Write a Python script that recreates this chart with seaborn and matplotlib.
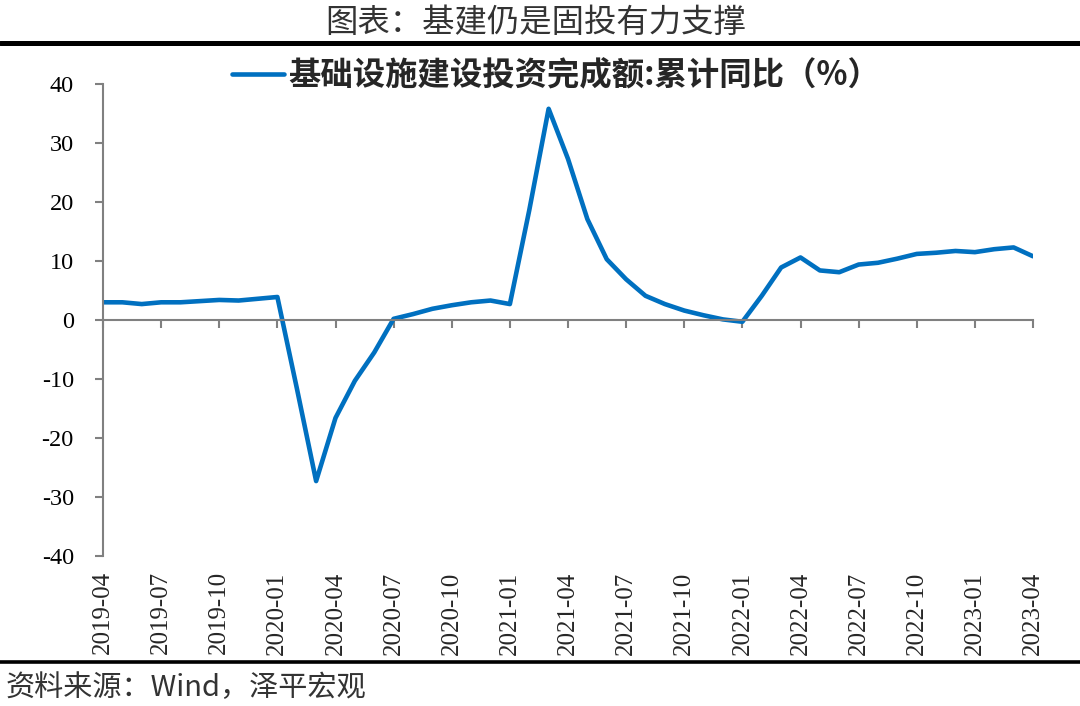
import matplotlib
matplotlib.use("Agg")
import matplotlib.pyplot as plt
from matplotlib.lines import Line2D
import seaborn as sns
import pandas as pd
import numpy as np

# ---- data ----
months = list(pd.date_range("2019-04-01", "2023-04-01", freq="MS").strftime("%Y-%m"))
infra_yoy = [3.0, 3.0, 2.7, 3.0, 3.0, 3.2, 3.4, 3.3, 3.6, 3.9,
             -11.5, -27.3, -16.6, -10.3, -5.5, 0.2, 1.0, 1.9, 2.5, 3.0,
             3.3, 2.7, 18.6, 35.8, 27.3, 17.1, 10.3, 6.9, 4.1, 2.7,
             1.6, 0.8, 0.1, -0.3, 4.1, 8.9, 10.6, 8.4, 8.1, 9.4,
             9.7, 10.4, 11.2, 11.4, 11.7, 11.5, 12.0, 12.3, 10.8]
tick_labels = months[::3]
y_ticks = [40, 30, 20, 10, 0, -10, -20, -30, -40]

title = "图表：基建仍是固投有力支撑"
series_name = "基础设施建设投资完成额:累计同比（%）"
source = "资料来源：Wind，泽平宏观"

sns.set_theme(style="white")
plt.rcParams['font.family'] = ['Liberation Serif', 'Noto Sans CJK SC', 'DejaVu Sans']
cjk = ['Noto Sans CJK SC', 'DejaVu Sans']

df = pd.DataFrame({"pos": np.arange(len(months)), "month": months, "value": infra_yoy})

fig = plt.figure(figsize=(10.8, 7.06), dpi=100)
ax = fig.add_axes([103/1080, 1-556/706, (1033-103)/1080, (556-84)/706])

blue = "#0070C0"
gray = "#808080"
sns.lineplot(data=df, x="pos", y="value", ax=ax, color=blue, linewidth=3.3,
             solid_capstyle="round", solid_joinstyle="round", legend=False)

ax.set_xlim(0, len(months)-1)
ax.set_ylim(-40, 40)
ax.set_yticks(y_ticks)
ax.set_yticklabels([str(v) for v in y_ticks])
ax.set_xlabel("")
ax.set_ylabel("")

for s in ["top", "right"]:
    ax.spines[s].set_visible(False)
ax.spines["left"].set_color(gray)
ax.spines["left"].set_linewidth(1.5)
ax.spines["bottom"].set_position(("data", 0))
ax.spines["bottom"].set_color(gray)
ax.spines["bottom"].set_linewidth(1.5)

tick_pos = list(range(0, len(months), 3))
ax.set_xticks(tick_pos)
ax.tick_params(axis="x", direction="out", length=6, width=1.5, color=gray,
               labelbottom=False, bottom=True)
ax.tick_params(axis="y", direction="out", length=6, width=1.5, color=gray,
               labelsize=17.5, pad=15, labelcolor="black", left=True)

sec = ax.secondary_xaxis("bottom")
sec.set_xticks(tick_pos)
sec.set_xticklabels(tick_labels, rotation=90, fontsize=18)
sec.tick_params(length=0, pad=11)
sec.spines["bottom"].set_visible(False)
for lab in sec.get_xticklabels():
    lab.set_verticalalignment("top")

# legend
handle = Line2D([0], [0], color=blue, linewidth=3.3)
leg = fig.legend([handle], [series_name], loc="center",
                 bbox_to_anchor=(556/1080, 1-76/706), frameon=False,
                 handlelength=1.6, handletextpad=0.15, borderpad=0,
                 prop={'family': cjk, 'weight': 'bold', 'size': 23.3})

# title and decorations
fig.text(536/1080, 1-23/706, title, ha="center", va="center",
         fontsize=23.3, family=cjk, fontweight="light", color="#333333")
fig.add_artist(Line2D([0, 1], [1-42.5/706, 1-42.5/706], transform=fig.transFigure,
                      color="black", linewidth=3.6))
fig.add_artist(Line2D([0, 1], [1-662/706, 1-662/706], transform=fig.transFigure,
                      color="black", linewidth=2.6))
fig.text(6/1080, 1-688/706, source, ha="left", va="center",
         fontsize=21, family=cjk, fontweight="light", color="#333333", style="italic")

fig.savefig("out.png", dpi=100)
